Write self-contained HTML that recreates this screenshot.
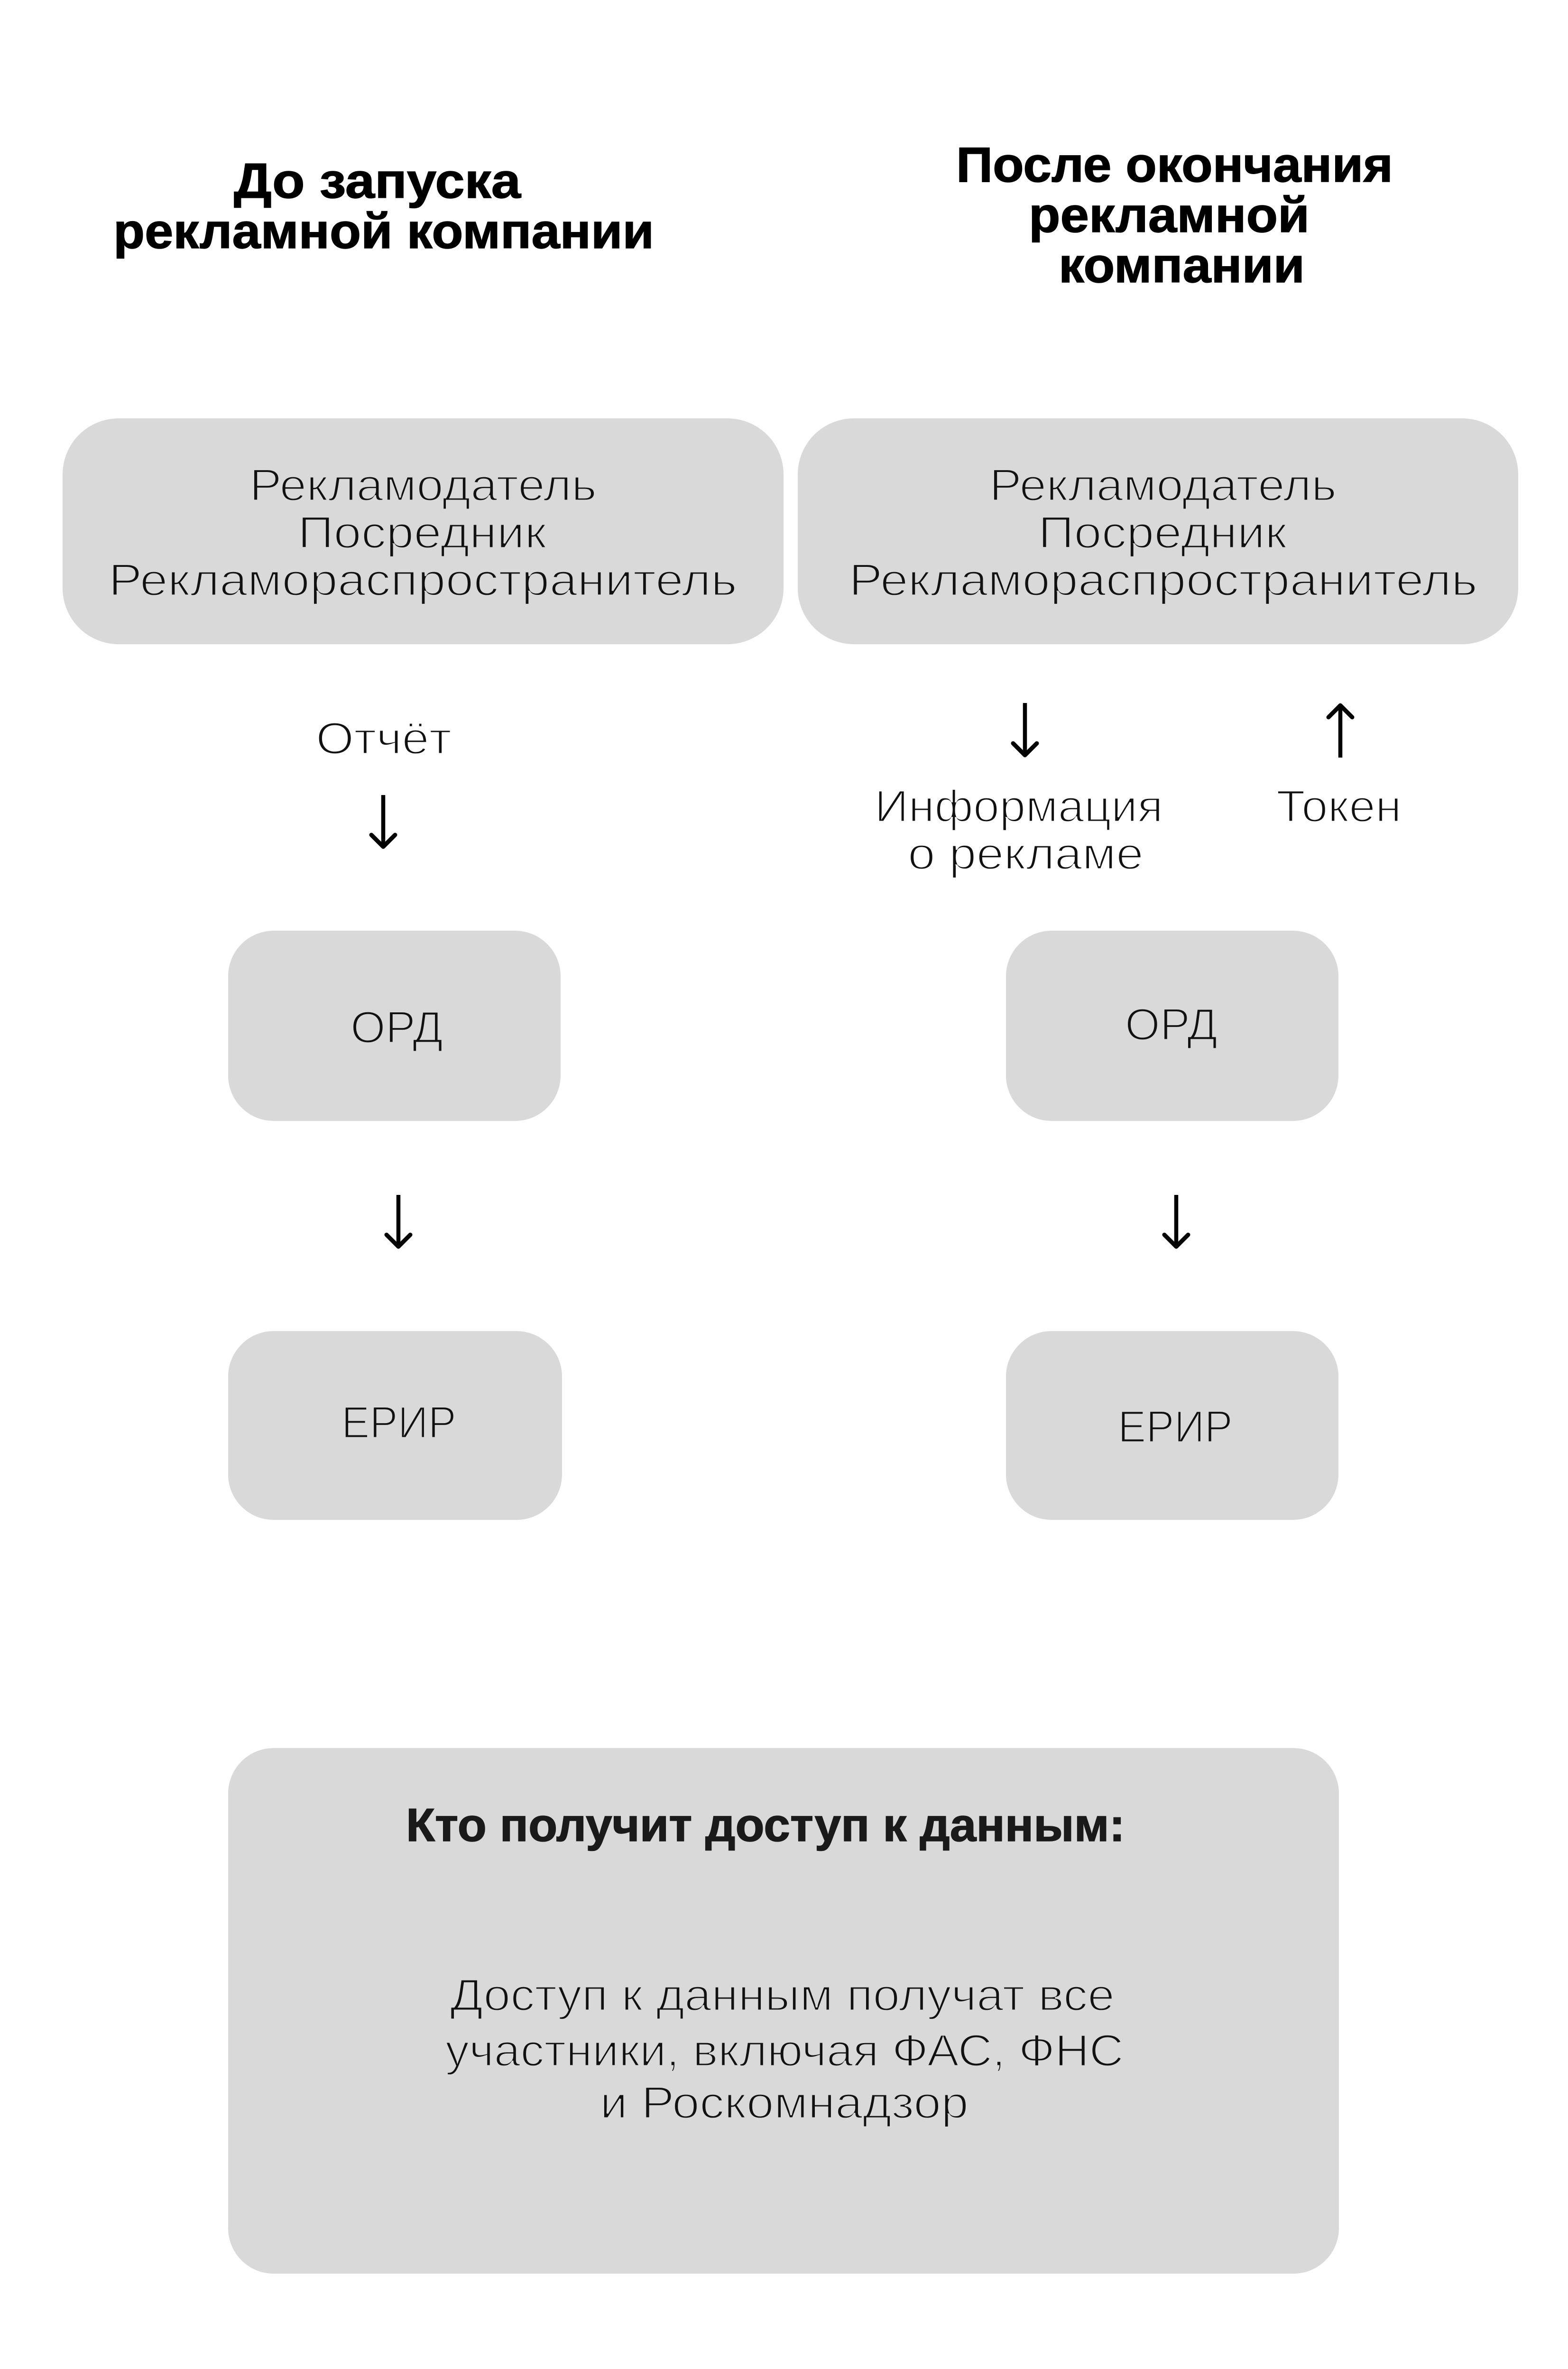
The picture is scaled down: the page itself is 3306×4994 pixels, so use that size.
<!DOCTYPE html>
<html><head><meta charset="utf-8"><style>
html,body{margin:0;padding:0;background:#fff}
svg{display:block}
text{font-family:"Liberation Sans","DejaVu Sans",sans-serif;font-size:95px;fill:#111;stroke:#d9d9d9;stroke-width:3.2px}
text.w{stroke:#fff}
text.b{font-weight:bold;font-size:104px;fill:#000;stroke:#000;stroke-width:1.5px}
text.k{font-weight:bold;font-size:98px;fill:#1a1a1a;stroke:#1a1a1a;stroke-width:1.5px}
.a{fill:none;stroke:#000;stroke-width:8.5;stroke-linejoin:round}
.c{fill:none;stroke:#000;stroke-width:9;stroke-linejoin:round;stroke-linecap:round}
</style></head><body>
<svg xmlns="http://www.w3.org/2000/svg" width="3306" height="4994" viewBox="0 0 3306 4994">
<rect width="3306" height="4994" fill="#fff"/>
<g fill="#d9d9d9">
<rect x="132" y="882" width="1520" height="476" rx="118"/>
<rect x="1682" y="882" width="1519" height="476" rx="118"/>
<rect x="481" y="1962" width="701" height="401" rx="96"/>
<rect x="2121" y="1962" width="701" height="401" rx="96"/>
<rect x="481" y="2806" width="704" height="398" rx="96"/>
<rect x="2121" y="2806" width="701" height="398" rx="96"/>
<rect x="481" y="3685" width="2342" height="1108" rx="96"/>
</g>
<text class="b" x="493" y="417" textLength="605" lengthAdjust="spacingAndGlyphs">До запуска</text>
<text class="b" x="239" y="523" textLength="1140" lengthAdjust="spacingAndGlyphs">рекламной компании</text>
<text class="b" x="2016" y="383" textLength="921" lengthAdjust="spacingAndGlyphs">После окончания</text>
<text class="b" x="2169" y="489" textLength="592" lengthAdjust="spacingAndGlyphs">рекламной</text>
<text class="b" x="2232" y="595" textLength="519" lengthAdjust="spacingAndGlyphs">компании</text>

<text x="526" y="1055" textLength="732" lengthAdjust="spacingAndGlyphs">Рекламодатель</text>
<text x="628" y="1155" textLength="524" lengthAdjust="spacingAndGlyphs">Посредник</text>
<text x="229" y="1255" textLength="1325" lengthAdjust="spacingAndGlyphs">Рекламораспространитель</text>
<text x="2086" y="1055" textLength="732" lengthAdjust="spacingAndGlyphs">Рекламодатель</text>
<text x="2189" y="1155" textLength="524" lengthAdjust="spacingAndGlyphs">Посредник</text>
<text x="1790" y="1255" textLength="1325" lengthAdjust="spacingAndGlyphs">Рекламораспространитель</text>

<text class="w" x="666" y="1589" textLength="286" lengthAdjust="spacingAndGlyphs">Отчёт</text>
<text class="w" x="1844" y="1732" textLength="608" lengthAdjust="spacingAndGlyphs">Информация</text>
<text class="w" x="1914" y="1832" textLength="497" lengthAdjust="spacingAndGlyphs">о рекламе</text>
<text class="w" x="2691" y="1732" textLength="264" lengthAdjust="spacingAndGlyphs">Токен</text>

<text x="739" y="2198" textLength="195" lengthAdjust="spacingAndGlyphs">ОРД</text>
<text x="2372" y="2192" textLength="195" lengthAdjust="spacingAndGlyphs">ОРД</text>
<text x="720" y="3031" textLength="242" lengthAdjust="spacingAndGlyphs">ЕРИР</text>
<text x="2357" y="3040" textLength="242" lengthAdjust="spacingAndGlyphs">ЕРИР</text>

<text class="k" x="856" y="3881" textLength="1516" lengthAdjust="spacingAndGlyphs">Кто получит доступ к данным:</text>
<text x="949" y="4238" textLength="1401" lengthAdjust="spacingAndGlyphs">Доступ к данным получат все</text>
<text x="939" y="4355" textLength="1430" lengthAdjust="spacingAndGlyphs">участники, включая ФАС, ФНС</text>
<text x="1265" y="4465" textLength="777" lengthAdjust="spacingAndGlyphs">и Роскомнадзор</text>

<path class="a" d="M808 1676V1784"/><path class="c" d="M783 1760L808 1785L833 1760"/>
<path class="a" d="M2161 1482V1591"/><path class="c" d="M2136 1567L2161 1592L2186 1567"/>
<path class="a" d="M2826 1597V1488"/><path class="c" d="M2801 1512L2826 1487L2851 1512"/>
<path class="a" d="M840 2519V2627"/><path class="c" d="M815 2603L840 2628L865 2603"/>
<path class="a" d="M2480 2519V2627"/><path class="c" d="M2455 2603L2480 2628L2505 2603"/>
</svg>
</body></html>
